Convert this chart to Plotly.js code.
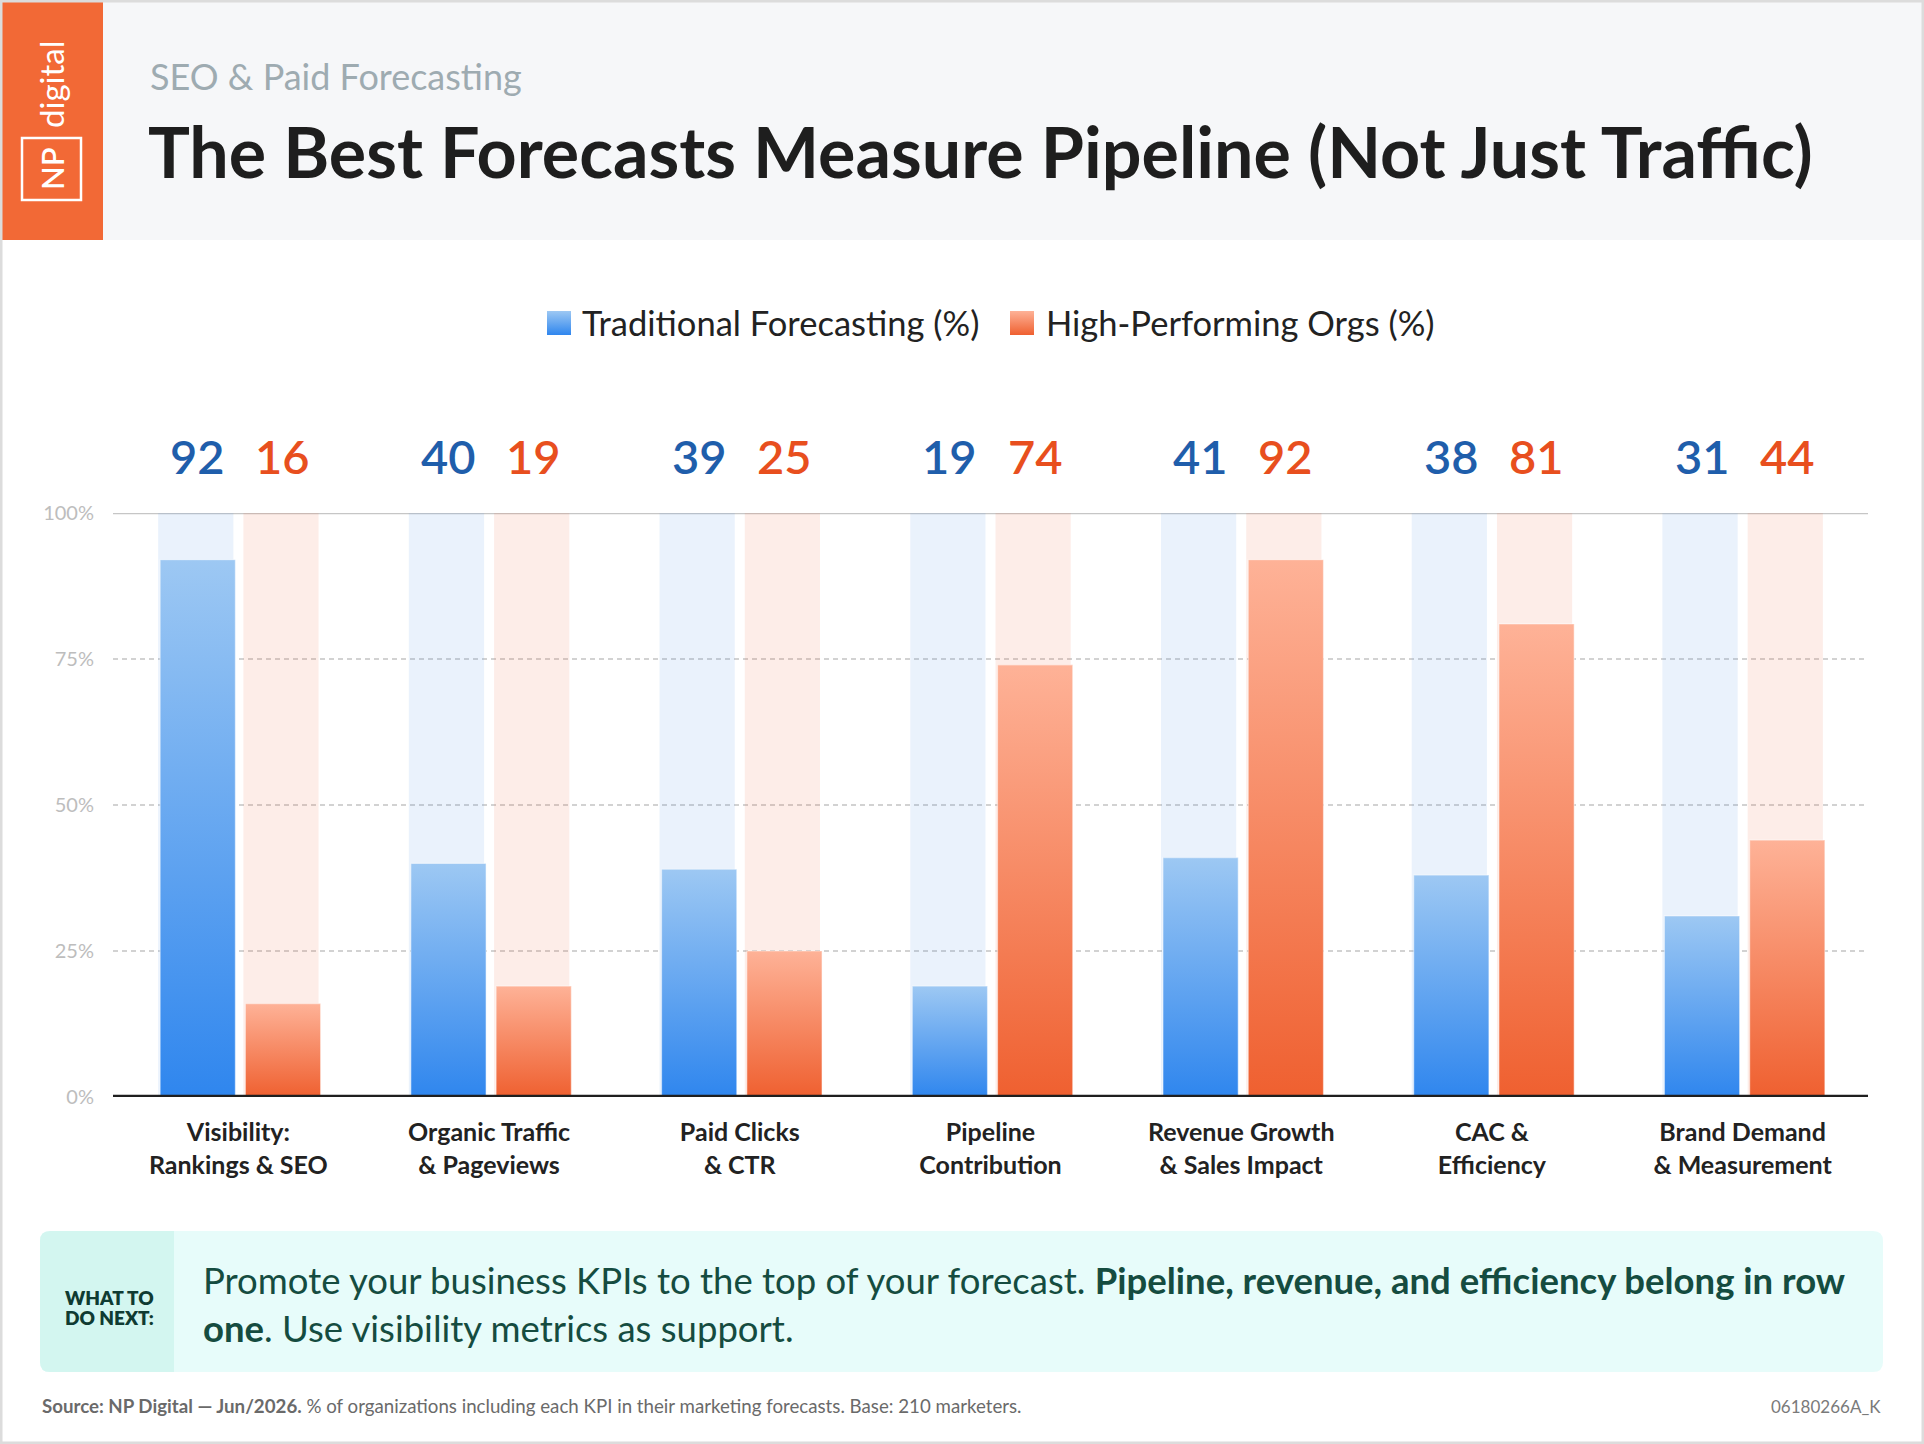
<!DOCTYPE html>
<html>
<head>
<meta charset="utf-8">
<script src="https://cdn.plot.ly/plotly-3.0.1.min.js"></script>
<style>
  html, body { margin: 0; padding: 0; background: #ffffff; }
  #chart { width: 1924px; height: 1444px; }
</style>
</head>
<body>
<div id="chart"></div>
<script>
// ---------------- DATA ----------------
const categories = [
  "Visibility:<br>Rankings & SEO",
  "Organic Traffic<br>& Pageviews",
  "Paid Clicks<br>& CTR",
  "Pipeline<br>Contribution",
  "Revenue Growth<br>& Sales Impact",
  "CAC &<br>Efficiency",
  "Brand Demand<br>& Measurement"
];
const traditional = [92, 40, 39, 19, 41, 38, 31];
const highPerforming = [16, 19, 25, 74, 92, 81, 44];
const seriesNames = ["Traditional Forecasting (%)", "High-Performing Orgs (%)"];
const yTicks = [0, 25, 50, 75, 100];
const yTickLabels = ["0%", "25%", "50%", "75%", "100%"];

const headerKicker = "SEO & Paid Forecasting";
const headerTitle = "The Best Forecasts Measure Pipeline (Not Just Traffic)";
const calloutLabel = ["WHAT TO", "DO NEXT:"];
const calloutLine1 = "Promote your business KPIs to the top of your forecast. <b>Pipeline, revenue, and efficiency belong in row</b>";
const calloutLine2 = "<b>one</b>. Use visibility metrics as support.";
const sourceNote = "<b>Source: NP Digital — Jun/2026.</b> % of organizations including each KPI in their marketing forecasts. Base: 210 marketers.";
const codeNote = "06180266A_K";

// ---------------- LAYOUT HELPERS ----------------
const W = 1924, H = 1444;
const M = { l: 113, r: 56, t: 513, b: 347 };
const PW = W - M.l - M.r, PH = H - M.t - M.b;
const X = px => (px - M.l) / PW;
const Y = py => (H - M.b - py) / PH;
const FONT = "Lato, 'Noto Sans', 'DejaVu Sans', sans-serif";

function rectPath(x0, y0, x1, y1, r, rounded) {
  const [tl, tr, br, bl] = rounded;
  let p = `M${X(x0 + (tl ? r : 0))},${Y(y0)}`;
  p += ` L${X(x1 - (tr ? r : 0))},${Y(y0)}`;
  if (tr) p += ` Q${X(x1)},${Y(y0)} ${X(x1)},${Y(y0 + r)}`;
  p += ` L${X(x1)},${Y(y1 - (br ? r : 0))}`;
  if (br) p += ` Q${X(x1)},${Y(y1)} ${X(x1 - r)},${Y(y1)}`;
  p += ` L${X(x0 + (bl ? r : 0))},${Y(y1)}`;
  if (bl) p += ` Q${X(x0)},${Y(y1)} ${X(x0)},${Y(y1 - r)}`;
  p += ` L${X(x0)},${Y(y0 + (tl ? r : 0))}`;
  if (tl) p += ` Q${X(x0)},${Y(y0)} ${X(x0 + r)},${Y(y0)}`;
  return p + " Z";
}
function paperRect(x0, y0, x1, y1, fill, extra) {
  return Object.assign({
    type: "rect", xref: "paper", yref: "paper",
    x0: X(x0), x1: X(x1), y0: Y(y1), y1: Y(y0),
    fillcolor: fill, line: { width: 0 }, layer: "below"
  }, extra || {});
}

// ---------------- TRACES ----------------
const idx = categories.map((_, i) => i);
const BW = 0.3, OFF_B = -0.32, OFF_O = 0.02, SHIFT = 0.008;
const LABEL_PY = 456; // pixel row of the value labels

const traces = [
  { type: "bar", x: idx, y: idx.map(() => 100), width: BW, offset: OFF_B,
    marker: { color: "rgba(90,150,235,0.127)", line: { width: 0 } },
    hoverinfo: "skip", showlegend: false },
  { type: "bar", x: idx, y: idx.map(() => 100), width: BW, offset: OFF_O,
    marker: { color: "rgba(240,100,60,0.116)", line: { width: 0 } },
    hoverinfo: "skip", showlegend: false },
  { type: "bar", name: seriesNames[0], x: idx, y: traditional, width: BW, offset: OFF_B + SHIFT,
    marker: { color: "#5fa3f0", line: { width: 1.2, color: "rgba(255,255,255,0.45)" } },
    showlegend: false },
  { type: "bar", name: seriesNames[1], x: idx, y: highPerforming, width: BW, offset: OFF_O + SHIFT,
    marker: { color: "#f6845a", line: { width: 1.2, color: "rgba(255,255,255,0.45)" } },
    showlegend: false }
];

// ---------------- SHAPES ----------------
const shapes = [
  paperRect(0, 0, W, 240, "#f6f7f9"),
  paperRect(0, 0, 103, 240, "#f26936"),
  paperRect(22, 138, 81, 200, "rgba(0,0,0,0)", { line: { color: "#ffffff", width: 2.5 }, layer: "above" }),
  ...[25, 50, 75].map(v => ({ type: "line", xref: "paper", yref: "y", x0: 0, x1: 1, y0: v, y1: v,
    line: { color: "#c4c4c4", width: 1.3, dash: "5px,4px" }, layer: "below" })),
  { type: "line", xref: "paper", yref: "y", x0: 0, x1: 1, y0: 100, y1: 100,
    line: { color: "#c6c6c6", width: 2.5 }, layer: "below" },
  { type: "line", xref: "paper", yref: "y", x0: 0, x1: 1, y0: 0, y1: 0,
    line: { color: "#1f1f1f", width: 4.5 }, layer: "above" },
  { type: "path", xref: "paper", yref: "paper", path: rectPath(40, 1231, 1883, 1372, 10, [1, 1, 1, 1]),
    fillcolor: "#e7fcfa", line: { width: 0 }, layer: "below" },
  { type: "path", xref: "paper", yref: "paper", path: rectPath(40, 1231, 174, 1372, 10, [1, 0, 0, 1]),
    fillcolor: "#d3f6f0", line: { width: 0 }, layer: "below" },
  { type: "rect", xref: "paper", yref: "paper", x0: X(1), x1: X(W - 1), y0: Y(H - 1), y1: Y(1),
    line: { color: "#dcdcdc", width: 3 }, fillcolor: "rgba(0,0,0,0)", layer: "above" },
  paperRect(547, 311, 571, 335, "#5fa3f0", { layer: "above" }),
  paperRect(1010, 311, 1034, 335, "#f6845a", { layer: "above" })
];
const LEG_SWATCH_START = shapes.length - 2;

// ---------------- ANNOTATIONS ----------------
const ann = (text, x, y, opts) => Object.assign({
  text, xref: "paper", yref: "paper", x: X(x), y: Y(y), showarrow: false,
  xanchor: "left", yanchor: "middle", font: { family: FONT, size: 20, color: "#222" }
}, opts || {});

const valueLabel = (v, xPos, color) => ({
  text: String(v), xref: "x", yref: "paper", x: xPos, y: Y(LABEL_PY), showarrow: false,
  xanchor: "center", yanchor: "middle",
  font: { family: FONT, size: 47, color, weight: 600 }
});

const annotations = [
  ann("digital", 51, 84, { xanchor: "center", textangle: -90, font: { family: FONT, size: 33, color: "#ffffff" } }),
  ann("NP", 52, 169, { xanchor: "center", textangle: -90, font: { family: FONT, size: 31, color: "#ffffff", weight: 600 } }),
  ann(headerKicker, 148, 76, { font: { family: FONT, size: 36, color: "#9eabb1" } }),
  ann(headerTitle, 146, 151, { font: { family: FONT, size: 70, color: "#1e1e1e", weight: 700 } }),
  ann(seriesNames[0], 580, 323, { font: { family: FONT, size: 34.5, color: "#222222" } }),
  ann(seriesNames[1], 1044, 323, { font: { family: FONT, size: 34.5, color: "#222222" } }),
  ann(calloutLabel[0], 63, 1297, { font: { family: FONT, size: 19, color: "#0f3b32", weight: 800 } }),
  ann(calloutLabel[1], 63, 1317, { font: { family: FONT, size: 19, color: "#0f3b32", weight: 800 } }),
  ann(calloutLine1, 201, 1280, { font: { family: FONT, size: 36.5, color: "#154c40" } }),
  ann(calloutLine2, 201, 1328, { font: { family: FONT, size: 36.5, color: "#154c40" } }),
  ann(sourceNote, 40, 1406, { font: { family: FONT, size: 18.7, color: "#6a6a6a" } }),
  ann(codeNote, 1883, 1406, { xanchor: "right", font: { family: FONT, size: 17, color: "#7a7a7a" } }),
  ...idx.map(i => valueLabel(traditional[i], i + OFF_B + SHIFT + BW / 2, "#1f5eab")),
  ...idx.map(i => valueLabel(highPerforming[i], i + OFF_O + SHIFT + BW / 2, "#e84f1e"))
];

const layout = {
  width: W, height: H,
  margin: M,
  paper_bgcolor: "#ffffff", plot_bgcolor: "rgba(0,0,0,0)",
  barmode: "overlay",
  showlegend: false,
  font: { family: FONT },
  xaxis: {
    range: [-0.5, 6.5], tickvals: idx, ticktext: categories,
    showgrid: false, zeroline: false, showline: false, ticks: "",
    tickfont: { family: FONT, size: 25, color: "#222222", weight: 700 },
    ticklabelstandoff: 18, fixedrange: true
  },
  yaxis: {
    range: [0, 100], tickvals: yTicks, ticktext: yTickLabels,
    showgrid: false, zeroline: false, showline: false, ticks: "",
    tickfont: { family: FONT, size: 20, color: "#bdbdbd" },
    ticklabelstandoff: 18, fixedrange: true
  },
  shapes, annotations
};

Plotly.newPlot("chart", traces, layout, { displayModeBar: false, staticPlot: true }).then(gd => {
  const NS = "http://www.w3.org/2000/svg";
  const svg = gd.querySelector(".main-svg");
  let defs = svg.querySelector("defs");
  if (!defs) { defs = document.createElementNS(NS, "defs"); svg.insertBefore(defs, svg.firstChild); }
  function grad(id, top, bottom) {
    const g = document.createElementNS(NS, "linearGradient");
    g.setAttribute("id", id);
    g.setAttribute("x1", "0"); g.setAttribute("y1", "0");
    g.setAttribute("x2", "0"); g.setAttribute("y2", "1");
    [[0, top], [1, bottom]].forEach(([o, c]) => {
      const s = document.createElementNS(NS, "stop");
      s.setAttribute("offset", o); s.setAttribute("stop-color", c);
      g.appendChild(s);
    });
    defs.appendChild(g);
  }
  grad("gBlue", "#9dc8f3", "#2f86ee");
  grad("gOrange", "#feb297", "#ef6030");
  const barTraces = gd.querySelectorAll(".barlayer .trace");
  if (barTraces[2]) barTraces[2].querySelectorAll("path").forEach(p => p.style.fill = "url(#gBlue)");
  if (barTraces[3]) barTraces[3].querySelectorAll("path").forEach(p => p.style.fill = "url(#gOrange)");
  const s1 = gd.querySelector(`.shapelayer path[data-index="${LEG_SWATCH_START}"]`);
  const s2 = gd.querySelector(`.shapelayer path[data-index="${LEG_SWATCH_START + 1}"]`);
  if (s1) s1.style.fill = "url(#gBlue)";
  if (s2) s2.style.fill = "url(#gOrange)";
});
</script>
</body>
</html>
